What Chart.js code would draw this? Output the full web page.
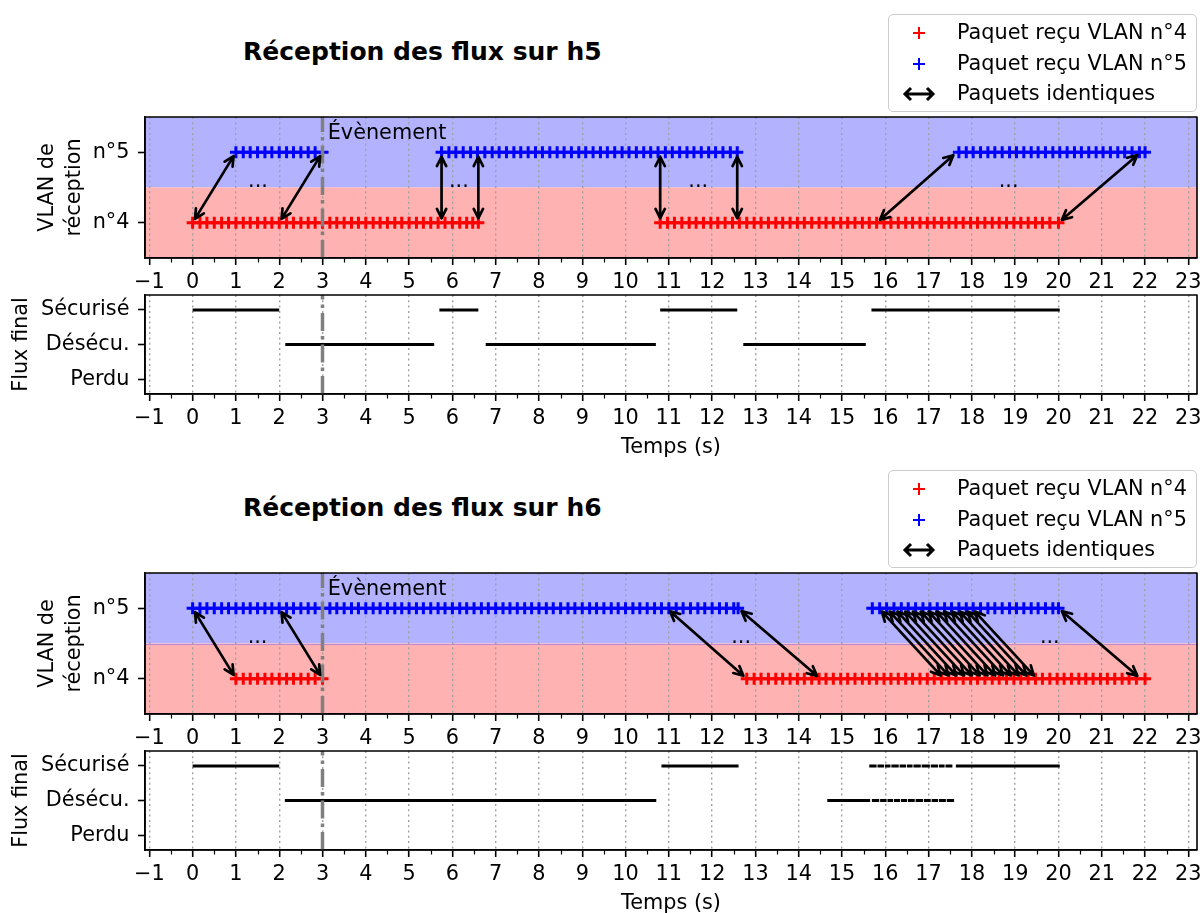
<!DOCTYPE html>
<html>
<head>
<meta charset="utf-8">
<script src="https://cdn.jsdelivr.net/npm/chart.js@4"></script>
<style>
  body { margin: 0; background: #fff; width: 1202px; height: 913px; overflow: hidden; position: relative;
         font-family: 'DejaVu Sans', sans-serif; color: #000; }
  canvas { position: absolute; left: 0; }
  .title { position: absolute; left: 243px; font-weight: bold; font-size: 25px; line-height: 30px; white-space: nowrap; }
  .legend { position: absolute; left: 888px; width: 309px; height: 98px; box-sizing: border-box;
            border: 1px solid #cccccc; border-radius: 5px; background: rgba(255,255,255,0.8); }
  .legend .txt { position: absolute; left: 68px; font-size: 20.8px; line-height: 26px; white-space: nowrap; }
  .legend svg { position: absolute; }
</style>
</head>
<body>
<script>
// axes
const xTicks = [-1, 0, 1, 2, 3, 4, 5, 6, 7, 8, 9, 10, 11, 12, 13, 14, 15, 16, 17, 18, 19, 20, 21, 22, 23];
const vlanTicks = [4, 5];
const vlanLabels = ['n°4', 'n°5'];
const fluxTicks = [0, 1, 2];
const fluxLabels = ['Perdu', 'Désécu.', 'Sécurisé'];
const eventTime = 3;
const titles = ['Réception des flux sur h5', 'Réception des flux sur h6'];
const legendLabels = ['Paquet reçu VLAN n°4', 'Paquet reçu VLAN n°5', 'Paquets identiques'];

// h5 : packet times (s) per VLAN
const h5Vlan4 = [0,0.17,0.33,0.5,0.67,0.83,1,1.17,1.33,1.5,1.67,1.83,2,2.17,2.33,2.5,2.67,2.83,3,3.17,3.33,3.5,3.67,3.83,4,4.17,4.33,4.5,4.67,4.83,5,5.17,5.33,5.5,5.67,5.83,6,6.17,6.33,6.47,6.6,
  10.8,10.97,11.13,11.3,11.47,11.63,11.8,11.97,12.13,12.3,12.47,12.63,12.8,12.97,13.13,13.3,13.47,13.63,13.8,13.97,14.13,14.3,14.47,14.63,14.8,14.97,15.13,15.3,15.47,15.63,15.8,15.97,16.13,16.3,16.47,16.63,16.8,16.97,17.13,17.3,17.47,17.63,17.8,17.97,18.13,18.3,18.47,18.63,18.8,18.97,19.13,19.3,19.47,19.63,19.8,20];
const h5Vlan5 = [1,1.17,1.33,1.5,1.67,1.83,2,2.17,2.33,2.5,2.67,2.83,3,
  5.75,5.92,6.08,6.25,6.42,6.58,6.75,6.92,7.08,7.25,7.42,7.58,7.75,7.92,8.08,8.25,8.42,8.58,8.75,8.92,9.08,9.25,9.42,9.58,9.75,9.92,10.08,10.25,10.42,10.58,10.75,10.92,11.08,11.25,11.42,11.58,11.75,11.92,12.08,12.25,12.42,12.58,
  17.7,17.87,18.03,18.2,18.37,18.53,18.7,18.87,19.03,19.2,19.37,19.53,19.7,19.87,20.03,20.2,20.37,20.53,20.7,20.87,21.03,21.2,21.37,21.53,21.7,21.87,22];
// identical packets: time on VLAN 4 <-> time on VLAN 5
const h5Same4 = [0, 2, 5.75, 6.6, 10.8, 12.58, 15.8, 20];
const h5Same5 = [1, 3, 5.75, 6.6, 10.8, 12.58, 17.65, 21.9];
const h5Dots = [1.51, 6.15, 11.68, 18.85];
// final flow intervals [start, end]
const h5Secure = [[0, 2], [5.7, 6.6], [10.8, 12.58], [15.68, 20.03]];
const h5Unsecure = [[2.14, 5.58], [6.77, 10.7], [12.72, 15.55]];

// h6
const h6Vlan4 = [1,1.17,1.33,1.5,1.67,1.83,2,2.17,2.33,2.5,2.67,2.83,3,
  12.8,12.97,13.13,13.3,13.47,13.63,13.8,13.97,14.13,14.3,14.47,14.63,14.8,14.97,15.13,15.3,15.47,15.63,15.8,15.97,16.13,16.3,16.47,16.63,16.8,16.97,17.13,17.3,17.47,17.63,17.8,17.97,18.13,18.3,18.47,18.63,18.8,18.97,19.13,19.3,19.47,19.63,19.8,19.97,20.13,20.3,20.47,20.63,20.8,20.97,21.13,21.3,21.47,21.63,21.8,22];
const h6Vlan5 = [0,0.17,0.33,0.5,0.67,0.83,1,1.17,1.33,1.5,1.67,1.83,2,2.17,2.33,2.5,2.67,2.83,3,3.17,3.33,3.5,3.67,3.83,4,4.17,4.33,4.5,4.67,4.83,5,5.17,5.33,5.5,5.67,5.83,6,6.17,6.33,6.5,6.67,6.83,7,7.17,7.33,7.5,7.67,7.83,8,8.17,8.33,8.5,8.67,8.83,9,9.17,9.33,9.5,9.67,9.83,10,10.17,10.33,10.5,10.67,10.83,11,11.17,11.33,11.5,11.67,11.83,12,12.17,12.33,12.5,12.6,
  15.7,15.87,16.03,16.2,16.37,16.53,16.7,16.87,17.03,17.2,17.37,17.53,17.7,17.87,18.03,18.2,18.37,18.53,18.7,18.87,19.03,19.2,19.37,19.53,19.7,19.87,20];
const h6Same4 = [1, 3, 12.8, 14.5, 17.35, 17.53, 17.71, 17.89, 18.07, 18.25, 18.43, 18.61, 18.79, 18.97, 19.15, 19.33, 19.5, 21.9];
const h6Same5 = [0, 2, 10.95, 12.6, 15.85, 16.03, 16.21, 16.39, 16.57, 16.75, 16.93, 17.11, 17.29, 17.47, 17.65, 17.83, 18.0, 20];
const h6Dots = [1.5, 12.67, 19.8];
const h6Secure = [[0, 2], [10.83, 12.61], [15.63, 15.8], [15.82, 15.97], [15.99, 16.12], [16.14, 16.31], [16.33, 16.48], [16.5, 16.63],
  [16.65, 16.82], [16.84, 17.03], [17.05, 17.22], [17.24, 17.37], [17.39, 17.55], [17.63, 20.03]];
const h6Unsecure = [[2.13, 10.71], [14.66, 15.65], [15.69, 15.86], [15.88, 16.03], [16.05, 16.18], [16.2, 16.34], [16.36, 16.5],
  [16.52, 16.68], [16.7, 16.87], [16.89, 17.05], [17.07, 17.22], [17.24, 17.4], [17.42, 17.59]];

Chart.defaults.font.family = "'DejaVu Sans', sans-serif";
Chart.defaults.font.size = 20.8;
Chart.defaults.color = '#000';

function drawArrow(ctx, x1, y1, x2, y2) {
  const len = Math.hypot(x2 - x1, y2 - y1);
  const ux = (x2 - x1) / len, uy = (y2 - y1) / len;
  const shrink = 4.5, head = 10.5, ang = 0.46;
  const ax = x1 + ux * shrink, ay = y1 + uy * shrink;
  const bx = x2 - ux * shrink, by = y2 - uy * shrink;
  ctx.beginPath();
  ctx.moveTo(ax, ay);
  ctx.lineTo(bx, by);
  [[bx, by, -1], [ax, ay, 1]].forEach(([px, py, d]) => {
    for (const s of [-ang, ang]) {
      const c = Math.cos(s), sn = Math.sin(s);
      const vx = (ux * c - uy * sn) * d, vy = (ux * sn + uy * c) * d;
      ctx.moveTo(px + vx * head, py + vy * head);
      ctx.lineTo(px, py);
    }
  });
  ctx.stroke();
}

const decor = {
  id: 'decor',
  beforeDraw(chart, args, o) {
    const { ctx, chartArea: a, scales: { y } } = chart;
    ctx.save();
    (o.bands || []).forEach(b => {
      const t = y.getPixelForValue(b[1]), btm = y.getPixelForValue(b[0]);
      ctx.fillStyle = b[2];
      ctx.fillRect(a.left, t, a.right - a.left, btm - t);
    });
    if (o.edge) {
      const ey = Math.round(y.getPixelForValue(4.5)) + 0.5;
      ctx.strokeStyle = 'rgba(150,100,230,0.55)';
      ctx.lineWidth = 1;
      ctx.beginPath(); ctx.moveTo(a.left, ey); ctx.lineTo(a.right, ey); ctx.stroke();
    }
    ctx.restore();
  },
  afterDatasetsDraw(chart, args, o) {
    const { ctx, chartArea: a, scales: { x, y } } = chart;
    ctx.save();
    // event
    const ex = x.getPixelForValue(eventTime);
    ctx.strokeStyle = '#808080';
    ctx.lineWidth = 3.5;
    ctx.setLineDash([18, 5, 3.5, 5]);
    ctx.beginPath(); ctx.moveTo(ex, a.bottom); ctx.lineTo(ex, a.top); ctx.stroke();
    ctx.setLineDash([]);
    // identical packets
    ctx.strokeStyle = '#000';
    ctx.lineWidth = 2.7;
    ctx.lineCap = 'round';
    ctx.lineJoin = 'round';
    (o.arrows || []).forEach(p => drawArrow(ctx, x.getPixelForValue(p[0]), y.getPixelForValue(p[1]),
      x.getPixelForValue(p[2]), y.getPixelForValue(p[3])));
    ctx.lineCap = 'butt';
    ctx.fillStyle = '#000';
    ctx.font = "20.8px 'DejaVu Sans', sans-serif";
    ctx.textAlign = 'center';
    ctx.textBaseline = 'alphabetic';
    (o.dots || []).forEach(d => ctx.fillText('...', x.getPixelForValue(d), y.getPixelForValue(4.5) - 1));
    if (o.label) {
      ctx.textAlign = 'left';
      ctx.textBaseline = 'middle';
      ctx.fillText(o.label[2], x.getPixelForValue(o.label[0]), y.getPixelForValue(o.label[1]));
    }
    // frame + minor ticks
    ctx.lineWidth = 1.6;
    ctx.strokeRect(a.left, a.top, a.right - a.left, a.bottom - a.top);
    ctx.lineWidth = 1.2;
    ctx.beginPath();
    xTicks.slice(0, -1).forEach(t => {
      const px = Math.round(x.getPixelForValue(t + 0.5)) + 0.5;
      ctx.moveTo(px, a.bottom); ctx.lineTo(px, a.bottom + 4.5);
    });
    ctx.stroke();
    ctx.restore();
  }
};

const fmt = v => (v < 0 ? '\u2212' + Math.abs(v) : String(v));

function xScale(h, withTitle) {
  return {
    type: 'linear', min: -1.1, max: 23.2,
    afterBuildTicks: s => { s.ticks = xTicks.map(v => ({ value: v })); },
    afterFit: s => { s.height = h; },
    grid: { color: '#a0a0a0', lineWidth: 1.4, tickColor: '#000', tickWidth: 1.6, tickLength: 7 },
    border: { color: '#000', width: 1.6, dash: [2, 3.3] },
    ticks: { autoSkip: false, maxRotation: 0, padding: 5, color: '#000', callback: v => fmt(v) },
    title: withTitle
      ? { display: true, text: 'Temps (s)', color: '#000', font: { size: 20.8, lineHeight: 1.3 }, padding: { top: 0, bottom: 8.5 } }
      : { display: false }
  };
}

function yScale(min, max, ticks, labels, title, pad) {
  return {
    type: 'linear', min: min, max: max,
    afterBuildTicks: s => { s.ticks = ticks.map(v => ({ value: v })); },
    afterFit: s => { s.width = 145; },
    grid: { drawOnChartArea: false, tickColor: '#000', tickWidth: 1.6, tickLength: 7 },
    border: { color: '#000', width: 1.6 },
    ticks: { padding: 8.5, color: '#000', callback: (v, i) => labels[i] },
    title: { display: true, text: title, color: '#000', font: { size: 20.8, lineHeight: 1.3 }, padding: { top: pad, bottom: 0 } }
  };
}

function makeChart(top, height, padTop, config) {
  const c = document.createElement('canvas');
  c.width = 1240;
  c.height = height;
  c.style.top = top + 'px';
  document.body.appendChild(c);
  config.options.responsive = false;
  config.options.animation = false;
  config.options.events = [];
  config.options.devicePixelRatio = 1;
  config.options.layout = { padding: { top: padTop, right: 43, left: 0, bottom: 0 } };
  config.plugins = [decor];
  return new Chart(c.getContext('2d'), config);
}

function vlanChart(off, v4, v5, same4, same5, dots, edge) {
  const marks = (times, lvl, color) => ({
    data: times.map(t => ({ x: t, y: lvl })),
    borderColor: color, backgroundColor: color,
    pointStyle: 'cross', pointRadius: 6, pointBorderWidth: 3
  });
  makeChart(90 + off, 210, 27, {
    type: 'scatter',
    data: { datasets: [marks(v4, 4, '#ff0000'), marks(v5, 5, '#0000ff')] },
    options: {
      scales: { x: xScale(42, false), y: yScale(3.5, 5.5, vlanTicks, vlanLabels, ['VLAN de', 'réception'], 34.5) },
      plugins: {
        legend: { display: false }, tooltip: { enabled: false },
        decor: {
          bands: [[4.5, 5.5, '#b2b2ff'], [3.5, 4.5, '#ffb2b2']],
          edge: edge,
          arrows: same4.map((t, i) => [t, 4, same5[i], 5]),
          dots: dots,
          label: [3.12, 5.27, 'Évènement']
        }
      }
    }
  });
}

function fluxChart(off, secure, unsecure) {
  const segs = (list, lvl) => ({
    data: list.flatMap(s => [{ x: s[0], y: lvl }, { x: s[1], y: lvl }, { x: s[1], y: null }]),
    showLine: true, spanGaps: false, borderColor: '#000', borderWidth: 3, pointRadius: 0, borderCapStyle: 'butt'
  });
  // chart area 295..394 ; the y scale asks ~21px of top padding
  makeChart(274 + off, 196, 21, {
    type: 'scatter',
    data: { datasets: [segs(secure, 2), segs(unsecure, 1)] },
    options: {
      scales: { x: xScale(76, true), y: yScale(-0.43, 2.43, fluxTicks, fluxLabels, 'Flux final', 8) },
      plugins: { legend: { display: false }, tooltip: { enabled: false }, decor: {} }
    }
  });
}

function header(off, title) {
  const t = document.createElement('div');
  t.className = 'title';
  t.style.top = (36.5 + off) + 'px';
  t.textContent = title;
  document.body.appendChild(t);

  const lg = document.createElement('div');
  lg.className = 'legend';
  lg.style.top = (14 + off) + 'px';
  const rows = [17.5, 48.5, 79];
  const sym = [
    '<svg width="16" height="16" viewBox="-8 -8 16 16"><path d="M-6 0H6M0 -6V6" stroke="#ff0000" stroke-width="2"/></svg>',
    '<svg width="16" height="16" viewBox="-8 -8 16 16"><path d="M-6 0H6M0 -6V6" stroke="#0000ff" stroke-width="2"/></svg>',
    '<svg width="36" height="16" viewBox="-18 -8 36 16"><path d="M-14 0H14M-8 -6L-14 0L-8 6M8 -6L14 0L8 6" stroke="#000" stroke-width="3" fill="none"/></svg>'
  ];
  legendLabels.forEach((lab, i) => {
    lg.insertAdjacentHTML('beforeend', sym[i]);
    const s = lg.lastElementChild;
    const w = i === 2 ? 36 : 16;
    s.style.left = (30 - w / 2) + 'px';
    s.style.top = (rows[i] - 8) + 'px';
    const d = document.createElement('div');
    d.className = 'txt';
    d.style.top = (rows[i] - 14) + 'px';
    d.textContent = lab;
    lg.appendChild(d);
  });
  document.body.appendChild(lg);
}

vlanChart(0, h5Vlan4, h5Vlan5, h5Same4, h5Same5, h5Dots, false);
fluxChart(0, h5Secure, h5Unsecure);
vlanChart(456, h6Vlan4, h6Vlan5, h6Same4, h6Same5, h6Dots, true);
fluxChart(456, h6Secure, h6Unsecure);
header(0, titles[0]);
header(456, titles[1]);
</script>
</body>
</html>
